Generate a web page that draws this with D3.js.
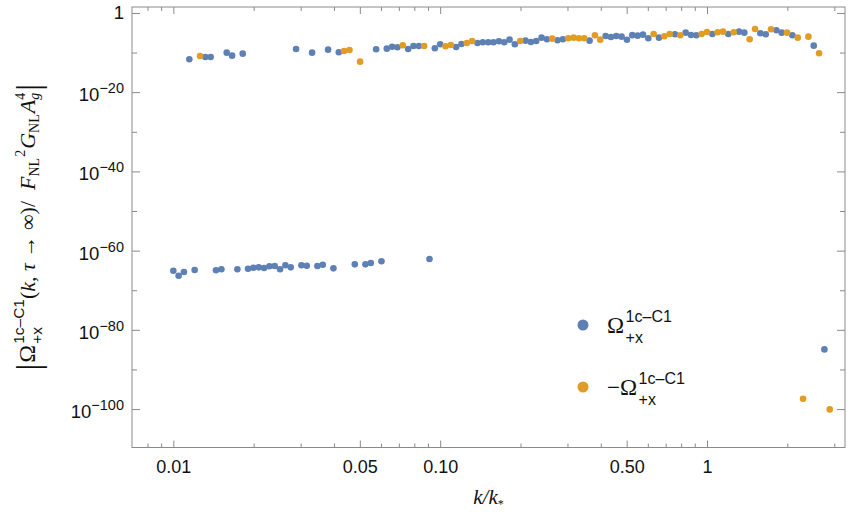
<!DOCTYPE html>
<html>
<head>
<meta charset="utf-8">
<script src="https://cdn.jsdelivr.net/npm/d3@7"></script>
<style>
  body { margin: 0; background: #fff; }
  .tick line { stroke: #8a8a8a; }
  text { white-space: pre; }
</style>
</head>
<body>
<script>

// k/k* values and log10 of the plotted value
// positive values (blue)
var blueK = [0.0100, 0.01047, 0.01096, 0.01202, 0.01445, 0.01514, 0.01738, 0.01905, 0.01995, 0.02089,
    0.02188, 0.02291, 0.02399, 0.02512, 0.02630, 0.02754, 0.03020, 0.03162, 0.03467, 0.03631,
    0.03981, 0.04786, 0.05248, 0.05495, 0.06026, 0.09120,
    0.01148, 0.01318, 0.01380, 0.01585, 0.01660, 0.01820, 0.02884, 0.03311, 0.03802, 0.04169,
    0.05754, 0.06310, 0.06607, 0.06918, 0.07586, 0.07943, 0.08318, 0.09550, 0.1000, 0.1148,
    0.1202, 0.1380, 0.1445, 0.1514, 0.1585, 0.1660, 0.1738, 0.1820, 0.1905, 0.2089,
    0.2188, 0.2291, 0.2399, 0.2512, 0.2754, 0.2884, 0.3631, 0.4169, 0.4365, 0.4571,
    0.4786, 0.5012, 0.5248, 0.5495, 0.5754, 0.6026, 0.6607, 0.7586, 0.8318, 0.8710,
    0.9120, 1.047, 1.202, 1.318, 1.380, 1.585, 1.660, 1.820, 1.905, 2.089,
    2.512, 2.754];
var blueExp = [-65.08, -66.34, -65.40, -64.90, -64.97, -64.72, -64.72, -64.57, -64.32, -64.22,
    -64.39, -63.96, -63.89, -64.72, -63.71, -64.22, -63.71, -63.81, -63.89, -63.56,
    -64.47, -63.46, -63.46, -63.13, -62.70, -62.12,
    -11.69, -11.11, -11.11, -10.03, -10.78, -10.28, -9.09, -10.03, -9.27, -9.92,
    -9.17, -9.02, -8.55, -8.67, -9.09, -8.33, -8.33, -8.91, -7.90, -8.59,
    -7.83, -7.58, -7.40, -7.40, -7.40, -7.15, -7.40, -6.74, -7.90, -6.99,
    -7.32, -7.07, -6.24, -6.64, -6.89, -6.64, -6.99, -5.81, -6.06, -5.81,
    -5.98, -6.77, -5.60, -5.73, -5.48, -6.39, -6.24, -5.38, -4.97, -5.56,
    -5.63, -5.30, -5.30, -4.72, -4.97, -5.13, -5.38, -4.37, -4.97, -5.63,
    -8.26, -84.93];

// negative values (orange)
var orangeK = [0.01259, 0.04365, 0.04571, 0.05012, 0.07244, 0.08710, 0.1047, 0.1096, 0.1259, 0.1318,
    0.1995, 0.2630, 0.3020, 0.3162, 0.3311, 0.3467, 0.3802, 0.3981, 0.6310, 0.6918,
    0.7244, 0.7943, 0.9550, 1.000, 1.096, 1.148, 1.259, 1.445, 1.514, 1.738,
    1.995, 2.188, 2.291, 2.399, 2.630, 2.884];
var orangeExp = [-10.86, -9.60, -9.34, -12.30, -8.16, -8.33, -8.41, -8.08, -7.58, -7.07,
    -7.07, -6.49, -6.39, -6.24, -6.39, -6.39, -5.63, -6.74, -5.30, -5.88,
    -5.30, -5.63, -5.30, -4.80, -4.87, -4.72, -4.87, -6.64, -4.04, -4.12,
    -4.97, -6.24, -97.40, -5.98, -10.18, -100.08];

// tick values
var xMajor = [0.01, 0.05, 0.1, 0.5, 1];
var xMajorLabels = ["0.01", "0.05", "0.10", "0.50", "1"];
var xMinor = [0.008, 0.009, 0.02, 0.03, 0.04, 0.06, 0.07, 0.08, 0.09, 0.2, 0.3, 0.4, 0.6, 0.7, 0.8, 0.9, 2, 3];
var yMajorExp = [0, -20, -40, -60, -80, -100];
var yMinorExp = [-10, -30, -50, -70, -90];

var blue = "#5E81B5", orange = "#E19C24";
var sans = "'Liberation Sans', Arial, sans-serif";
var serif = "'Liberation Serif', 'Times New Roman', serif";

var W = 855, H = 526;
var frameL = 132, frameR = 845, frameT = 7, frameB = 447.5;

var svg = d3.select("body").append("svg")
    .attr("width", W)
    .attr("height", H);

var x = d3.scaleLog().domain([0.007, 3.29]).range([frameL, frameR]);
var y = d3.scaleLog().domain([Math.pow(10, -109.7), Math.pow(10, 1.5)]).range([frameB, frameT]);

// frame ticks, pointing inwards on all four sides
function noLabel() { return ""; }

svg.append("g").attr("transform", "translate(0," + frameB + ")")
    .call(d3.axisBottom(x).tickValues(xMajor).tickSize(-7).tickPadding(13)
        .tickFormat(function(d, i) { return xMajorLabels[i]; }));
svg.append("g").attr("transform", "translate(0," + frameB + ")")
    .call(d3.axisBottom(x).tickValues(xMinor).tickSize(-4).tickFormat(noLabel));
svg.append("g").attr("transform", "translate(0," + frameT + ")")
    .call(d3.axisTop(x).tickValues(xMajor).tickSize(-7).tickFormat(noLabel));
svg.append("g").attr("transform", "translate(0," + frameT + ")")
    .call(d3.axisTop(x).tickValues(xMinor).tickSize(-4).tickFormat(noLabel));

var yMajor = yMajorExp.map(function(e) { return Math.pow(10, e); });
var yMinor = yMinorExp.map(function(e) { return Math.pow(10, e); });

svg.append("g").attr("transform", "translate(" + frameL + ",0)")
    .call(d3.axisLeft(y).tickValues(yMajor).tickSize(-8).tickFormat(noLabel));
svg.append("g").attr("transform", "translate(" + frameL + ",0)")
    .call(d3.axisLeft(y).tickValues(yMinor).tickSize(-5).tickFormat(noLabel));
svg.append("g").attr("transform", "translate(" + frameR + ",0)")
    .call(d3.axisRight(y).tickValues(yMajor).tickSize(-8).tickFormat(noLabel));
svg.append("g").attr("transform", "translate(" + frameR + ",0)")
    .call(d3.axisRight(y).tickValues(yMinor).tickSize(-5).tickFormat(noLabel));

svg.selectAll(".domain").remove();
svg.selectAll(".tick text")
    .style("font-family", sans)
    .style("font-size", "18px")
    .attr("fill", "#111");

// frame
svg.append("rect")
    .attr("x", frameL).attr("y", frameT)
    .attr("width", frameR - frameL).attr("height", frameB - frameT)
    .attr("fill", "none")
    .attr("stroke", "#8a8a8a")
    .attr("stroke-width", 1);

// y tick labels as powers of ten
yMajorExp.forEach(function(e) {
    var yy = y(Math.pow(10, e));
    var t = svg.append("text")
        .attr("x", 124)
        .attr("text-anchor", "end")
        .style("font-family", sans)
        .style("font-size", "18.5px")
        .attr("fill", "#111");
    if (e === 0) {
        t.attr("y", yy + 6.5).text("1");
    } else {
        t.attr("y", yy + 9).text("10");
        t.append("tspan")
            .attr("dy", -8)
            .style("font-size", "14.5px")
            .text("\u2212" + Math.abs(e));
    }
});

// points
svg.append("g").selectAll("circle")
    .data(d3.zip(blueK, blueExp))
    .enter().append("circle")
    .attr("cx", function(d) { return x(d[0]); })
    .attr("cy", function(d) { return y(Math.pow(10, d[1])); })
    .attr("r", 3.3)
    .attr("fill", blue);

svg.append("g").selectAll("circle")
    .data(d3.zip(orangeK, orangeExp))
    .enter().append("circle")
    .attr("cx", function(d) { return x(d[0]); })
    .attr("cy", function(d) { return y(Math.pow(10, d[1])); })
    .attr("r", 3.3)
    .attr("fill", orange);

// lays out a row of text pieces; a piece with under:true is stacked under the previous one
function mathLabel(g, parts) {
    var cx = 0, lastStart = 0, lastW = 0;
    parts.forEach(function(p) {
        var t = g.append("text")
            .attr("y", p.dy || 0)
            .style("font-family", p.ff || serif)
            .style("font-size", (p.fs || 20) + "px")
            .style("font-style", p.it ? "italic" : "normal")
            .attr("fill", "#111")
            .text(p.t);
        var w = t.node().getComputedTextLength();
        if (p.under) {
            t.attr("x", lastStart);
            cx = lastStart + Math.max(lastW, w);
        } else {
            lastStart = cx + (p.dx || 0);
            t.attr("x", lastStart);
            lastW = w;
            cx = lastStart + w;
        }
    });
    return cx;
}

// legend
var legend = [
    { color: blue, cy: 325, parts: [
        { t: "\u03A9", fs: 23 },
        { t: "1c\u2013C1", ff: sans, fs: 16, dy: -11.5, dx: 1.5 },
        { t: "+x", ff: sans, fs: 16, dy: 9.5, under: true }
    ] },
    { color: orange, cy: 387, parts: [
        { t: "\u2212\u03A9", fs: 23 },
        { t: "1c\u2013C1", ff: sans, fs: 16, dy: -11.5, dx: 1.5 },
        { t: "+x", ff: sans, fs: 16, dy: 9.5, under: true }
    ] }
];
legend.forEach(function(l) {
    svg.append("circle")
        .attr("cx", 583).attr("cy", l.cy).attr("r", 5.5)
        .attr("fill", l.color);
    var g = svg.append("g").attr("transform", "translate(607," + (l.cy + 8) + ")");
    mathLabel(g, l.parts);
});

// x axis label
var xl = svg.append("g");
var xw = mathLabel(xl, [
    { t: "k/k", it: true, fs: 21 },
    { t: "*", fs: 12, dy: 4 }
]);
xl.attr("transform", "translate(" + ((frameL + frameR) / 2 - xw / 2) + ",504)");

// y axis label, rotated
var yl = svg.append("g");
var yInner = yl.append("g");
var yw = mathLabel(yInner, [
    { t: "|", fs: 34, dy: 5 },
    { t: "\u03A9", fs: 24, dx: 1 },
    { t: "1c\u2013C1", ff: sans, fs: 15.5, dy: -11, dx: 1 },
    { t: "+x", ff: sans, fs: 15.5, dy: 7, under: true },
    { t: "(", fs: 22 },
    { t: "k", fs: 22, it: true },
    { t: ", ", fs: 22 },
    { t: "\u03C4", fs: 22, it: true },
    { t: " \u2192 \u221E)/  ", fs: 22 },
    { t: "F", fs: 22, it: true },
    { t: "NL", fs: 14, dy: 4 },
    { t: "2", fs: 14, dy: -10, dx: 1 },
    { t: "G", fs: 22, it: true, dx: 1 },
    { t: "NL", fs: 14, dy: 4 },
    { t: "A", fs: 22, it: true, dx: 1 },
    { t: "g", fs: 14, it: true, dy: 4 },
    { t: "4", fs: 14, dy: -10, under: true },
    { t: "|", fs: 34, dy: 5, dx: 2 }
]);
yInner.attr("transform", "translate(" + (-yw / 2) + ",0)");
yl.attr("transform", "translate(35," + ((frameT + frameB) / 2) + ") rotate(-90)");

</script>
</body>
</html>
